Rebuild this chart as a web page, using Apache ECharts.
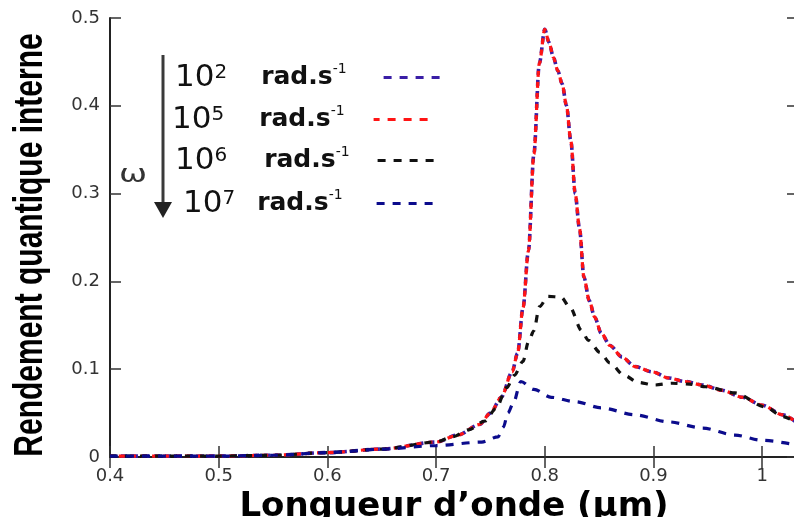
<!DOCTYPE html>
<html>
<head>
<meta charset="utf-8">
<script src="https://cdn.jsdelivr.net/npm/echarts@6/dist/echarts.min.js"></script>
<style>
  html, body { margin: 0; padding: 0; background: #fff; }
  #chart { width: 794px; height: 517px; }
</style>
</head>
<body>
<div id="chart"></div>
<script>
// Internal quantum efficiency versus wavelength for four modulation frequencies.

// Wavelength grids (µm)
const wavelengthLow = [0.40, 0.45, 0.50, 0.55, 0.60, 0.65, 0.70, 0.72, 0.74, 0.75, 0.76, 0.77, 0.775, 0.78, 0.785, 0.79, 0.795, 0.80, 0.804, 0.808, 0.812, 0.816, 0.82, 0.824, 0.828, 0.832, 0.836, 0.841, 0.846, 0.852, 0.86, 0.871, 0.883, 0.899, 0.914, 0.929, 0.945, 0.963, 0.982, 1.00, 1.019, 1.035];
const wavelength1e6 = [0.40, 0.45, 0.50, 0.55, 0.60, 0.65, 0.70, 0.715, 0.73, 0.745, 0.755, 0.765, 0.772, 0.78, 0.785, 0.79, 0.795, 0.803, 0.815, 0.823, 0.834, 0.840, 0.851, 0.860, 0.873, 0.886, 0.901, 0.917, 0.933, 0.948, 0.975, 1.003, 1.019, 1.035];
const wavelength1e7 = [0.40, 0.45, 0.50, 0.55, 0.60, 0.65, 0.70, 0.742, 0.757, 0.762, 0.766, 0.771, 0.778, 0.790, 0.806, 0.828, 0.852, 0.883, 0.914, 0.945, 0.975, 1.00, 1.035];

// Internal quantum efficiency for each angular frequency
const yield1e2 = [0.001, 0.001, 0.001, 0.002, 0.005, 0.009, 0.017, 0.025, 0.037, 0.050, 0.068, 0.097, 0.118, 0.170, 0.235, 0.345, 0.448, 0.487, 0.472, 0.455, 0.440, 0.425, 0.400, 0.360, 0.300, 0.260, 0.205, 0.178, 0.159, 0.141, 0.127, 0.114, 0.103, 0.097, 0.090, 0.086, 0.082, 0.076, 0.068, 0.059, 0.048, 0.036];
const yield1e5 = [0.001, 0.001, 0.001, 0.002, 0.005, 0.009, 0.017, 0.025, 0.037, 0.050, 0.068, 0.097, 0.118, 0.170, 0.235, 0.345, 0.448, 0.487, 0.472, 0.455, 0.440, 0.425, 0.400, 0.360, 0.300, 0.260, 0.205, 0.178, 0.159, 0.141, 0.127, 0.114, 0.103, 0.097, 0.090, 0.086, 0.082, 0.076, 0.068, 0.059, 0.048, 0.036];
const yield1e6 = [0.001, 0.001, 0.001, 0.002, 0.005, 0.009, 0.017, 0.023, 0.031, 0.041, 0.055, 0.079, 0.093, 0.109, 0.131, 0.144, 0.171, 0.183, 0.182, 0.171, 0.144, 0.133, 0.119, 0.107, 0.093, 0.085, 0.082, 0.084, 0.083, 0.080, 0.073, 0.057, 0.046, 0.036];
const yield1e7 = [0.001, 0.001, 0.001, 0.002, 0.005, 0.009, 0.013, 0.017, 0.023, 0.034, 0.050, 0.061, 0.086, 0.077, 0.068, 0.063, 0.056, 0.048, 0.040, 0.033, 0.025, 0.019, 0.013];

// Legend text: powers of ten of the angular frequency
const omegaExponents = ['2', '5', '6', '7'];
const seriesNames = ['10^2 rad.s-1', '10^5 rad.s-1', '10^6 rad.s-1', '10^7 rad.s-1'];

const xTitle = 'Longueur d\u2019onde (\u00b5m)';
const yTitle = 'Rendement quantique interne';

const pairs = (xs, ys) => xs.map((x, i) => [x, ys[i]]);

const curves = [
  { x: wavelengthLow, y: yield1e2, color: '#3a1ea6', width: 3.6, dash: [6, 5], offset: 0 },
  { x: wavelengthLow, y: yield1e5, color: '#ff1414', width: 3.2, dash: [6, 5], offset: 2 },
  { x: wavelength1e6, y: yield1e6, color: '#111111', width: 3.2, dash: [7, 8], offset: 0 },
  { x: wavelength1e7, y: yield1e7, color: '#0b0b8c', width: 3.2, dash: [8, 8], offset: 0 }
];

// Per-row legend placement: left edge, top, gap before "rad", gap before the line sample
const legendRows = [
  { left: 175, top: 62, gap: 34, tail: 32 },
  { left: 172, top: 104, gap: 35, tail: 24 },
  { left: 175, top: 145, gap: 37, tail: 23 },
  { left: 183, top: 188, gap: 22, tail: 29 }
];

const legends = legendRows.map((row, i) => {
  const rich = {
    n: { fontFamily: 'DejaVu Sans', fontSize: 31, color: '#111', lineHeight: 30 },
    e: { fontFamily: 'DejaVu Sans', fontSize: 20, color: '#111', lineHeight: 14, verticalAlign: 'top' },
    r: { fontFamily: 'DejaVu Sans', fontWeight: 'bold', fontSize: 25, color: '#111', lineHeight: 30 },
    e2: { fontFamily: 'DejaVu Sans', fontSize: 14, color: '#111', lineHeight: 10, verticalAlign: 'top' }
  };
  rich['g' + i] = { width: row.gap, lineHeight: 30 };
  rich['t' + i] = { width: row.tail, lineHeight: 30 };
  return {
    data: [seriesNames[i]],
    left: row.left,
    top: row.top,
    padding: 0,
    align: 'right',
    itemWidth: 58,
    itemHeight: 30,
    selectedMode: false,
    itemStyle: { opacity: 0 },
    lineStyle: { width: 3, type: [8, 8] },
    formatter: () => `{n|10}{e|${omegaExponents[i]}}{g${i}| }{r|rad.s}{e2|-1}{t${i}| }`,
    textStyle: { rich }
  };
});

const axisColor = '#222';
const tickStyle = { show: true, inside: true, length: 11, lineStyle: { color: '#333', width: 1.5 } };

const chart = echarts.init(document.getElementById('chart'), null, { renderer: 'canvas' });
chart.setOption({
  animation: false,
  backgroundColor: '#ffffff',
  grid: { left: 110, top: 18, width: 688, height: 439, containLabel: false, outerBoundsMode: 'none' },
  legend: legends,
  xAxis: [
    {
      type: 'value', min: 0.4, max: 1.033, interval: 0.1,
      axisLine: { lineStyle: { color: axisColor, width: 2 } },
      axisTick: tickStyle,
      splitLine: { show: false },
      axisLabel: { showMaxLabel: false, margin: 10, color: '#333', fontFamily: 'DejaVu Sans', fontSize: 18 },
      name: xTitle,
      nameLocation: 'middle',
      nameGap: 29,
      nameTextStyle: { fontFamily: 'DejaVu Sans', fontWeight: 'bold', fontSize: 34, color: '#000' }
    },
    {
      type: 'value', position: 'top', min: 0.4, max: 1.033, interval: 0.1,
      axisLine: { lineStyle: { color: axisColor, width: 2 } },
      axisTick: tickStyle,
      axisLabel: { show: false },
      splitLine: { show: false }
    }
  ],
  yAxis: [
    {
      type: 'value', min: 0, max: 0.5, interval: 0.1,
      axisLine: { lineStyle: { color: axisColor, width: 2 } },
      axisTick: tickStyle,
      splitLine: { show: false },
      axisLabel: { margin: 10, color: '#333', fontFamily: 'DejaVu Sans', fontSize: 18 }
    },
    {
      type: 'value', position: 'right', min: 0, max: 0.5, interval: 0.1,
      axisLine: { show: true, lineStyle: { color: axisColor, width: 2 } },
      axisTick: tickStyle,
      axisLabel: { show: false },
      splitLine: { show: false }
    }
  ],
  series: curves.map((c, i) => ({
    name: seriesNames[i],
    type: 'line',
    xAxisIndex: 0,
    yAxisIndex: 0,
    data: pairs(c.x, c.y),
    smooth: 0.3,
    smoothMonotone: 'x',
    symbol: 'none',
    clip: true,
    lineStyle: { color: c.color, width: c.width, type: c.dash, dashOffset: c.offset },
    itemStyle: { color: c.color }
  })),
  graphic: [
    {
      type: 'text', x: 31, y: 245, rotation: Math.PI / 2, scaleY: 1.35,
      style: {
        text: yTitle, fontFamily: 'Liberation Sans, Arial, sans-serif', fontWeight: 'bold',
        fontSize: 30, fill: '#000', align: 'center', verticalAlign: 'middle'
      }
    },
    {
      type: 'line', shape: { x1: 163, y1: 55, x2: 163, y2: 204 },
      style: { stroke: '#3a3a3a', lineWidth: 3 }
    },
    {
      type: 'polygon', shape: { points: [[154, 202], [172, 202], [163, 218]] },
      style: { fill: '#222' }
    },
    {
      type: 'text', x: 133, y: 176, scaleX: 1.4,
      style: {
        text: '\u03c9', fontFamily: 'DejaVu Sans', fontSize: 24, fill: '#333',
        align: 'center', verticalAlign: 'middle'
      }
    }
  ]
});
</script>
</body>
</html>
